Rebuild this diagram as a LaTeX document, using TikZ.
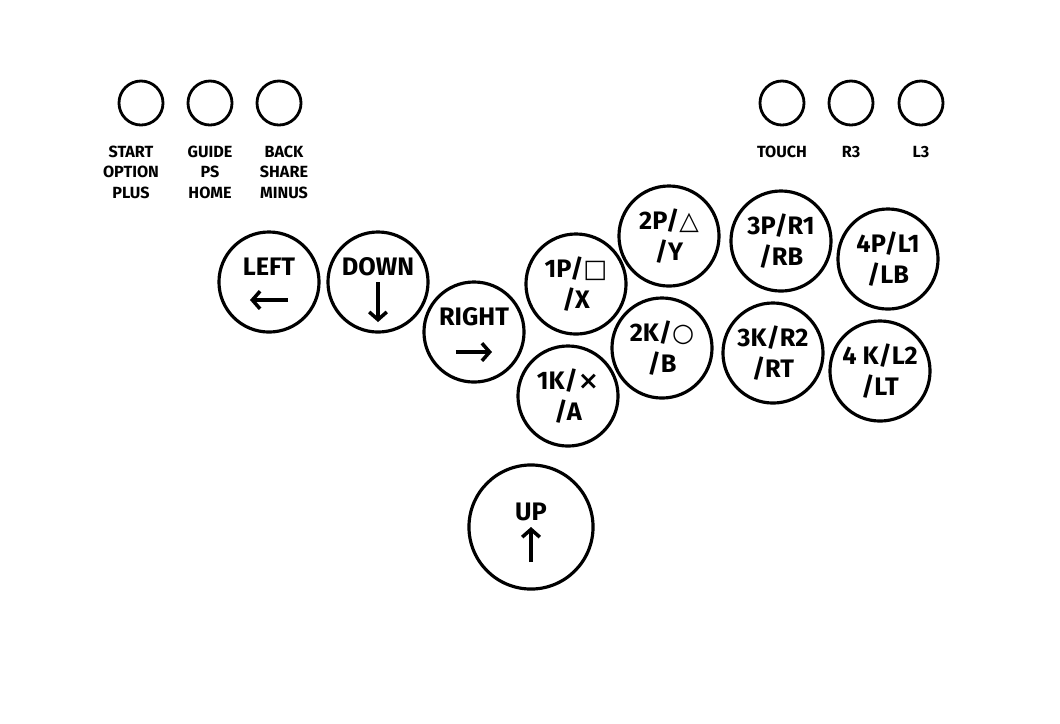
\documentclass[tikz,border=0pt]{standalone}
\usepackage{fontspec}
\setmainfont{Fira Sans}
\newfontfamily\symfont{DejaVu Sans}
\usetikzlibrary{positioning,arrows.meta}

\begin{document}
\begin{tikzpicture}[x=0.01cm,y=-0.01cm,
  small/.style={circle, draw, line width=0.8pt, minimum size=0.44cm, inner sep=0pt},
  smalltag/.style={font=\bfseries\fontsize{4.6}{5.8}\selectfont, align=center},
  btn/.style={circle, draw, line width=0.9pt, minimum size=1cm, inner sep=0pt, font=\bfseries\fontsize{7.2}{8.8}\selectfont, align=center},
  dirbtn/.style={btn, text depth=0.3cm},
  dirarrow/.style={line width=1pt, -{Straight Barb[length=2.2pt,width=5pt]}}
]
\useasboundingbox (0,0) rectangle (1060,723);

% small buttons
\node (start) [small] at (141,103) {};
\node (guide) [small] at (210,103) {};
\node (back)  [small] at (279,103) {};
\node (touch) [small] at (782,103) {};
\node (rthree) [small] at (851,103) {};
\node (lthree) [small] at (921,103) {};
\node [smalltag, below=0.07cm of start, xshift=-0.1cm] {START\\OPTION\\PLUS};
\node [smalltag, below=0.07cm of guide] {GUIDE\\PS\\HOME};
\node [smalltag, below=0.07cm of back, xshift=0.05cm] {BACK\\SHARE\\MINUS};
\node [smalltag, below=0.07cm of touch] {TOUCH};
\node [smalltag, below=0.07cm of rthree] {R3};
\node [smalltag, below=0.07cm of lthree] {L3};

% directions
\node (left)  [dirbtn] at (269,282) {LEFT};
\node (down)  [dirbtn] at (378,282) {DOWN};
\node (right) [dirbtn] at (474,332) {RIGHT};
\node (up)    [dirbtn, minimum size=1.24cm] at (531,527) {UP};
\draw[dirarrow] ([xshift=0.19cm,yshift=-0.18cm]left.center) -- ([xshift=-0.19cm,yshift=-0.18cm]left.center);
\draw[dirarrow] ([yshift=-0.0cm]down.center) -- ([yshift=-0.4cm]down.center);
\draw[dirarrow] ([xshift=-0.18cm,yshift=-0.2cm]right.center) -- ([xshift=0.18cm,yshift=-0.2cm]right.center);
\draw[dirarrow] ([yshift=-0.35cm]up.center) -- ([yshift=0.0cm]up.center);

% attack buttons
\node (onep)   [btn] at (576,284) {1P/{\symfont□}\\/X};
\node (twop)   [btn] at (669,236) {2P/{\symfont△}\\/Y};
\node (threep) [btn] at (781,241) {3P/R1\\/RB};
\node (fourp)  [btn] at (888,259) {4P/L1\\/LB};
\node (onek)   [btn] at (568,396) {1K/{\symfont×}\\/A};
\node (twok)   [btn] at (662,348) {2K/{\symfont○}\\/B};
\node (threek) [btn] at (773,353) {3K/R2\\/RT};
\node (fourk)  [btn] at (880,371) {4 K/L2\\/LT};

\end{tikzpicture}
\end{document}
